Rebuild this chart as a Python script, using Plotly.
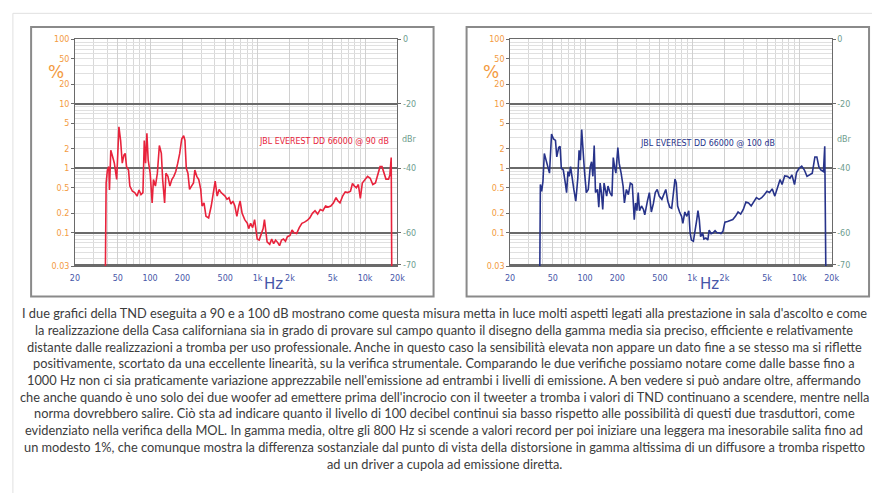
import math
import plotly.graph_objects as go

# ---------------- data (frequency in Hz, THD in %) ----------------
freq_90 = [38.2, 39.0, 40.1, 41.3, 41.9, 43.1, 44.9, 46.5, 48.9, 51.3, 53.2, 55.1, 57.1, 58.7, 60.4, 63.0,
           64.8, 68.5, 72.0, 75.6, 78.9, 82.3, 85.8, 88.3, 90.8, 93.4, 96.0, 100.2, 104.5, 107.5, 112.1,
           116.9, 122.0, 127.3, 130.9, 136.5, 140.4, 146.5, 152.8, 159.3, 166.3, 173.4, 180.9, 188.7,
           196.8, 205.3, 211.1, 217.2, 224.9, 233.0, 243.0, 253.5, 260.8, 272.0, 283.8, 296.0, 304.4,
           317.5, 331.2, 350.4, 370.7, 386.7, 403.3, 420.8, 438.9, 457.8, 477.6, 498.1, 519.6, 542.0,
           565.4, 589.7, 615.2, 641.7, 669.3, 688.4, 718.2, 759.7, 803.8, 826.7, 862.3, 899.4, 938.3,
           965, 992.5, 1035, 1080, 1127, 1159, 1192, 1226, 1297, 1353, 1411, 1472, 1535, 1601, 1671,
           1743, 1818, 1896, 2006, 2092, 2182, 2309, 2443, 2584, 2734, 2892, 3059, 3236, 3423, 3622,
           3831, 4054, 4289, 4536, 4799, 5076, 5371, 5602, 5844, 6182, 6540, 6917, 7319, 7634, 7962,
           8306, 8664, 9037, 9428, 9973, 10552, 11162, 11807, 12492, 13030, 13786, 14380, 14998,
           15646, 16551, 17023, 17512, 17760]
thd_90 = [0.01, 0.59, 0.94, 1.06, 0.46, 1.9, 1.5, 1.2, 0.67, 4.4, 2.7, 1.2, 1.6, 1.7, 1.06, 0.94,
          0.53, 0.44, 0.42, 0.37, 0.46, 0.39, 0.42, 2.7, 1.2, 3.5, 1.34, 0.84, 0.29, 0.67, 0.53,
          0.84, 2.26, 1.7, 0.67, 0.29, 0.84, 0.75, 0.53, 0.67, 0.75, 0.89, 1.2, 1.7,
          2.85, 3.2, 2.7, 1.0, 0.84, 0.47, 0.53, 0.59, 0.94, 0.75, 0.67, 0.47, 0.26,
          0.29, 0.18, 0.17, 0.26, 0.42, 0.63, 0.37, 0.47, 0.42, 0.39, 0.37, 0.33, 0.35,
          0.28, 0.31, 0.26, 0.18, 0.26, 0.31, 0.2, 0.16, 0.14, 0.116, 0.14, 0.12, 0.16,
          0.1, 0.08, 0.077, 0.097, 0.116, 0.16, 0.1, 0.072, 0.066, 0.08, 0.068, 0.077, 0.071, 0.063, 0.077,
          0.08, 0.074, 0.087, 0.091, 0.11, 0.1, 0.097, 0.12, 0.14, 0.146, 0.155, 0.17, 0.2, 0.22, 0.195,
          0.23, 0.22, 0.26, 0.25, 0.26, 0.29, 0.35, 0.31, 0.29, 0.37, 0.43, 0.42, 0.44, 0.58, 0.53,
          0.5, 0.56, 0.34, 0.59, 0.67, 0.75, 0.7, 0.56, 0.59, 0.75, 1.06, 1.06, 0.84,
          0.68, 0.68, 0.79, 1.47, 0.01]

freq_100 = [37.7, 38.3, 39.4, 40.5, 41.7, 43.5, 45.3, 46.6, 48.7, 50.8, 53.0, 54.5, 56.8, 58.5, 60.1,
            62.7, 65.5, 67.3, 69.3, 71.2, 73.3, 75.4, 78.6, 82.0, 85.6, 88.0, 90.5, 93.1, 95.8, 98.6,
            102.8, 107.2, 111.9, 115.1, 118.4, 121.8, 125.2, 130.7, 134.4, 138.3, 142.2, 146.3, 150.5,
            154.8, 159.2, 163.8, 170.9, 178.3, 183.4, 188.6, 194.0, 202.4, 208.2, 217.2, 226.6, 233.1,
            243.2, 253.7, 264.7, 276.1, 288.0, 296.3, 304.8, 313.5, 322.5, 336.5, 351.0, 361.0, 371.4,
            382.0, 398.5, 415.7, 433.7, 452.5, 472.1, 492.5, 521.1, 543.7, 567.2, 591.8, 617.3, 643.9,
            671.8, 691.1, 710.8, 731.2, 762.8, 795.8, 818.5, 853.9, 891.0, 929.5, 956, 983.4, 1026,
            1070, 1101, 1132, 1165, 1198, 1250, 1286, 1342, 1399, 1440, 1502, 1567, 1635, 1705, 1779,
            1856, 1936, 2020, 2137, 2262, 2393, 2532, 2680, 2835, 2999, 3173, 3357, 3553, 3759, 3977,
            4208, 4452, 4711, 4985, 5274, 5581, 5904, 6248, 6611, 6896, 7297, 7720, 8168, 8522, 9016,
            9407, 9953, 10531, 11144, 11790, 12475, 13199, 13965, 14569, 15200, 15858, 16779, 17260, 17750]
thd_100 = [0.01, 0.56, 0.44, 0.63, 1.7, 1.34, 1.06, 0.84, 3.4, 2.85, 2.7, 1.5, 2.1, 2.2, 1.0,
           0.94, 0.59, 0.42, 0.89, 0.75, 1.06, 0.7, 0.47, 0.31, 0.7, 1.9, 1.34, 4.0, 1.7, 0.94,
           0.42, 0.47, 1.06, 1.26, 0.75, 2.26, 0.42, 0.47, 0.25, 0.59, 0.42, 0.23, 0.59,
           0.47, 0.37, 0.53, 0.42, 0.37, 1.47, 1.06, 0.84, 2.1, 1.2, 0.84, 0.53, 0.29,
           0.47, 0.39, 0.59, 0.56, 0.16, 0.29, 0.22, 0.42, 0.22, 0.26, 0.23, 0.19, 0.26,
           0.31, 0.42, 0.21, 0.28, 0.42, 0.47, 0.37, 0.33, 0.39, 0.47, 0.31, 0.25, 0.24,
           0.42, 0.68, 0.59, 0.26, 0.21, 0.18, 0.14, 0.21, 0.18, 0.22, 0.1, 0.077, 0.074,
           0.13, 0.155, 0.22, 0.16, 0.087, 0.1, 0.08, 0.083, 0.077, 0.11, 0.097, 0.1, 0.108, 0.1, 0.1,
           0.097, 0.105, 0.146, 0.15, 0.155, 0.16, 0.18, 0.21, 0.195, 0.23, 0.3, 0.29, 0.26, 0.31, 0.35,
           0.33, 0.35, 0.39, 0.44, 0.42, 0.48, 0.37, 0.5, 0.67, 0.56, 0.76, 0.75, 0.7, 0.79, 0.56,
           0.86, 1.0, 1.08, 0.94, 0.75, 0.79, 0.84, 1.5, 1.5, 1.06, 0.94, 0.89, 2.2, 0.01]

x_ticks = [20, 50, 100, 200, 500, 1000, 2000, 5000, 10000, 20000]
x_labels = ["20", "50", "100", "200", "500", "1k", "2k", "5k", "10k", "20k"]
x_minor = [30, 40, 60, 70, 80, 90, 300, 400, 600, 700, 800, 900,
           3000, 4000, 6000, 7000, 8000, 9000]
y_ticks = [100, 50, 20, 10, 5, 2, 1, 0.5, 0.2, 0.1, 0.03]
y_labels = ["100", "50", "20", "10", "5", "2", "1", "0.5", "0.2", "0.1", "0.03"]
y_minor = [0.04, 0.05, 0.06, 0.07, 0.08, 0.09, 0.2, 0.3, 0.4, 0.5, 0.6, 0.7, 0.8, 0.9,
           2, 3, 4, 5, 6, 7, 8, 9, 20, 30, 40, 50, 60, 70, 80, 90]
db_ticks = [0, -20, -40, -60, -70]
db_labels = ["0", "-20", "-40", "-60", "-70"]

label_90 = "JBL EVEREST DD 66000 @ 90 dB"
label_100 = "JBL EVEREST DD 66000 @ 100 dB"

caption = [
    "I due grafici della TND eseguita a 90 e a 100 dB mostrano come questa misura metta in luce molti aspetti legati alla prestazione in sala d'ascolto e come",
    "la realizzazione della Casa californiana sia in grado di provare sul campo quanto il disegno della gamma media sia preciso, efficiente e relativamente",
    "distante dalle realizzazioni a tromba per uso professionale. Anche in questo caso la sensibilità elevata non appare un dato fine a se stesso ma si riflette",
    "positivamente, scortato da una eccellente linearità, su la verifica strumentale. Comparando le due verifiche possiamo notare come dalle basse fino a",
    "1000 Hz non ci sia praticamente variazione apprezzabile nell'emissione ad entrambi i livelli di emissione. A ben vedere si può andare oltre, affermando",
    "che anche quando è uno solo dei due woofer ad emettere prima dell'incrocio con il tweeter a tromba i valori di TND continuano a scendere, mentre nella",
    "norma dovrebbero salire. Ciò sta ad indicare quanto il livello di 100 decibel continui sia basso rispetto alle possibilità di questi due trasduttori, come",
    "evidenziato nella verifica della MOL. In gamma media, oltre gli 800 Hz si scende a valori record per poi iniziare una leggera ma inesorabile salita fino ad",
    "un modesto 1%, che comunque mostra la differenza sostanziale dal punto di vista della distorsione in gamma altissima di un diffusore a tromba rispetto",
    "ad un driver a cupola ad emissione diretta.",
]

# ---------------- styling ----------------
W, H = 880, 498
RED = "#e8233c"
BLUE = "#27338a"
ORANGE = "#f39a3e"
GREEN = "#6e9c8e"
XLAB = "#4656a8"
TICKFONT = "DejaVu Sans"
NARROW = "Liberation Sans Narrow, DejaVu Sans Condensed, Liberation Sans"


def px(x):
    return x / W


def py(y):
    return 1 - y / H


PLOT_TOP, PLOT_BOT = 36.0, 267.3
panels = [(71.0, 398.3), (512.7, 839.0)]

fig = go.Figure()
series = [(freq_90, thd_90, RED), (freq_100, thd_100, BLUE)]
for i, (f, v, c) in enumerate(series):
    sfx = "" if i == 0 else "2"
    fig.add_trace(go.Scatter(x=f, y=v, mode="lines", line=dict(color=c, width=1.6),
                             xaxis="x" + sfx, yaxis="y" + sfx, showlegend=False, hoverinfo="skip"))
    # same series on the dBr scale (invisible) so the right-hand axis is drawn
    db = [20 * math.log10(val / 100) for val in v]
    fig.add_trace(go.Scatter(x=f, y=db, mode="lines", line=dict(color="rgba(0,0,0,0)", width=0.1),
                             xaxis="x" + sfx, yaxis="y" + ("3" if i == 0 else "4"),
                             showlegend=False, hoverinfo="skip"))

db_min = 20 * math.log10(0.03 / 100)

layout_axes = {}
for i, (x0, x1) in enumerate(panels):
    sfx = "" if i == 0 else "2"
    xa = "xaxis" + sfx
    ya = "yaxis" + sfx
    yd = "yaxis" + ("3" if i == 0 else "4")
    xname = "x" + sfx
    yname = "y" + sfx
    layout_axes[xa] = dict(
        domain=[px(x0), px(x1)], type="log", range=[math.log10(20), math.log10(20000)],
        anchor=yname, tickvals=x_ticks, ticktext=x_labels,
        tickfont=dict(family=TICKFONT, size=8, color=XLAB),
        showgrid=True, gridcolor="#d0d0d0", gridwidth=1,
        minor=dict(tickmode="array", tickvals=x_minor, showgrid=True, gridcolor="#d8d8d8", gridwidth=1),
        showline=True, linecolor="#6a6a6a", linewidth=1, mirror=True,
        ticks="outside", ticklen=4, tickcolor="rgba(0,0,0,0)", zeroline=False, fixedrange=True,
    )
    layout_axes[ya] = dict(
        domain=[py(PLOT_BOT), py(PLOT_TOP)], type="log", range=[math.log10(0.03), 2],
        anchor=xname, tickvals=y_ticks, ticktext=y_labels,
        tickfont=dict(family=TICKFONT, size=8, color=ORANGE),
        showgrid=False,
        minor=dict(tickmode="array", tickvals=y_minor, showgrid=True, gridcolor="#e0e0e0", gridwidth=1),
        showline=True, linecolor="#6a6a6a", linewidth=1, mirror=True,
        ticks="outside", ticklen=3, tickcolor="#6a6a6a", zeroline=False, fixedrange=True,
    )
    layout_axes[yd] = dict(
        overlaying=yname, side="right", anchor=xname, range=[db_min, 0],
        tickvals=db_ticks, ticktext=db_labels,
        tickfont=dict(family=TICKFONT, size=8, color=GREEN),
        showgrid=True, gridcolor="#6a6a6a", gridwidth=1.5,
        ticks="outside", ticklen=3, tickcolor="#6a6a6a", zeroline=False, showline=False,
        fixedrange=True,
    )

fig.update_layout(**layout_axes)

annotations = []
shapes = []
for i, (x0, x1) in enumerate(panels):
    fx0 = 26.5 if i == 0 else 468.5
    fx1 = 435.0 if i == 0 else 877.0
    shapes.append(dict(type="rect", xref="paper", yref="paper",
                       x0=px(fx0), x1=px(fx1), y0=py(298), y1=py(23.5),
                       line=dict(color="#8a8a8a", width=2), layer="below"))
    annotations.append(dict(text="%", xref="paper", yref="paper", x=px(x0 - 19), y=py(69),
                            showarrow=False, font=dict(family="DejaVu Sans", size=17, color=ORANGE),
                            xanchor="center", yanchor="middle"))
    annotations.append(dict(text="dBr", xref="paper", yref="paper", x=px(x1 + 3), y=py(138),
                            showarrow=False, font=dict(family=TICKFONT, size=8, color=GREEN),
                            xanchor="left", yanchor="middle"))
    annotations.append(dict(text="Hz", xref="paper", yref="paper", x=px(x0 + 202), y=py(285),
                            showarrow=False, font=dict(family="DejaVu Sans", size=15, color=XLAB),
                            xanchor="center", yanchor="middle"))

annotations.append(dict(text=label_90, xref="x", yref="y", x=math.log10(17600), y=math.log10(2.63),
                        showarrow=False, xanchor="right", yanchor="middle",
                        font=dict(family=NARROW, size=8.8, color=RED)))
annotations.append(dict(text=label_100, xref="x2", yref="y2", x=math.log10(1380), y=math.log10(2.48),
                        showarrow=False, xanchor="center", yanchor="middle",
                        font=dict(family=NARROW, size=8.8, color=BLUE)))

# page borders
shapes.append(dict(type="line", xref="paper", yref="paper", x0=px(8), x1=px(8), y0=0, y1=py(9.5),
                   line=dict(color="#e0e0e0", width=1)))
shapes.append(dict(type="line", xref="paper", yref="paper", x0=px(8), x1=1, y0=py(9.5), y1=py(9.5),
                   line=dict(color="#e0e0e0", width=1)))

for k, line in enumerate(caption):
    annotations.append(dict(text=line, xref="paper", yref="paper", x=px(446), y=py(315 + 17.0 * k),
                            showarrow=False, xanchor="center", yanchor="middle",
                            font=dict(family="Lato", size=12.8, color="#3c3c3c")))

fig.update_layout(
    width=W, height=H, margin=dict(l=0, r=0, t=0, b=0),
    paper_bgcolor="white", plot_bgcolor="white",
    annotations=annotations, shapes=shapes, showlegend=False,
)

fig.write_html(
    "out.html",
    config={"displayModeBar": False},
    post_script="document.body.style.margin='0';document.body.style.padding='0';"
                "document.body.style.overflow='hidden';",
)
